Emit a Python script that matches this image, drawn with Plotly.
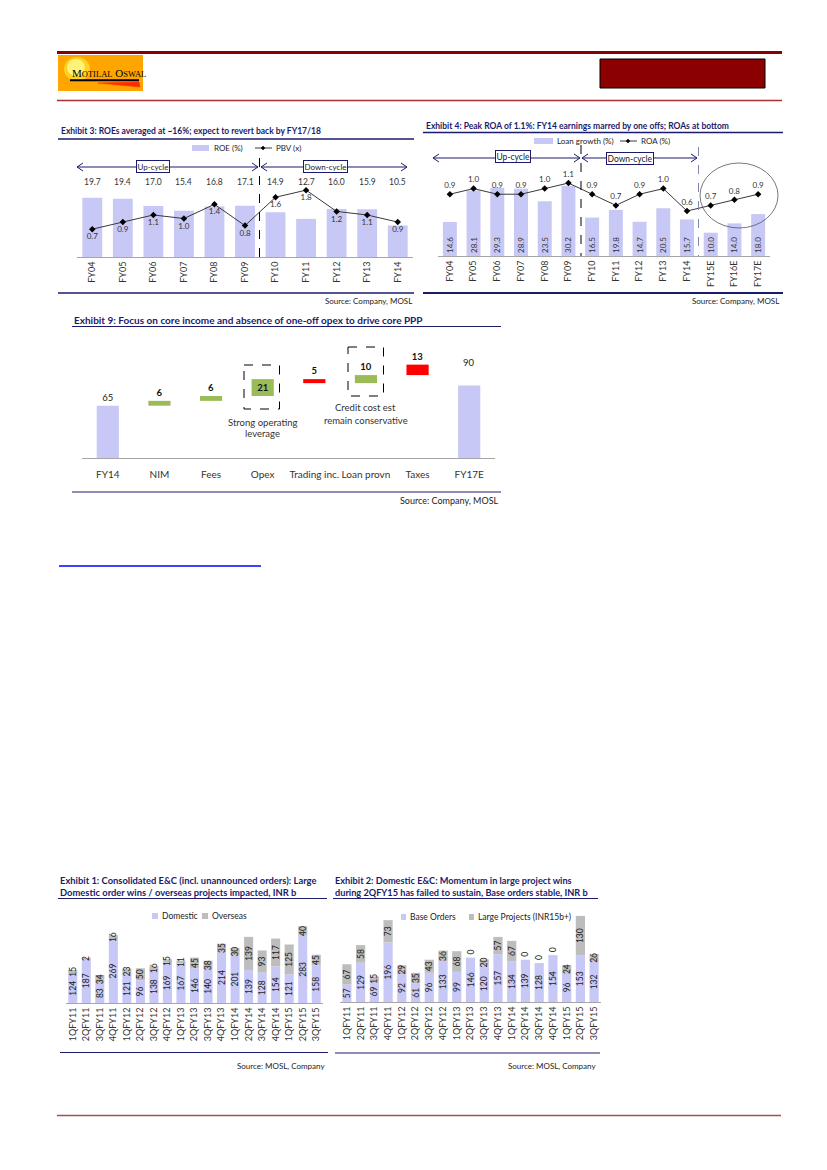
import plotly.graph_objects as go

W, H = 827, 1170
def X(p): return p / W
def Y(p): return 1 - p / H

FONT = "Lato"
NAVY = "#1b1b6b"
LAV = "#c8c8f6"
GRAY = "#bdbdbd"
GREEN = "#9bbb59"
RED = "#ff0000"
TXT = "#222222"

# ---------------- data ----------------
e3_years = ["FY04", "FY05", "FY06", "FY07", "FY08", "FY09", "FY10", "FY11", "FY12", "FY13", "FY14"]
e3_roe = [19.7, 19.4, 17.0, 15.4, 16.8, 17.1, 14.9, 12.7, 16.0, 15.9, 10.5]
e3_pbv = [0.7, 0.9, 1.1, 1.0, 1.4, 0.8, 1.6, 1.8, 1.2, 1.1, 0.9]

e4_years = ["FY04", "FY05", "FY06", "FY07", "FY08", "FY09", "FY10", "FY11", "FY12", "FY13", "FY14",
            "FY15E", "FY16E", "FY17E"]
e4_loan = [14.6, 28.1, 29.3, 28.9, 23.5, 30.2, 16.5, 19.8, 14.7, 20.5, 15.7, 10.0, 14.0, 18.0]
e4_roa = [0.9, 1.0, 0.9, 0.9, 1.0, 1.1, 0.9, 0.7, 0.9, 1.0, 0.6, 0.7, 0.8, 0.9]

wf_cats = ["FY14", "NIM", "Fees", "Opex", "Trading inc.", "Loan provn", "Taxes", "FY17E"]
wf_size = [65, 6, 6, 21, 5, 10, 13, 90]
wf_start = [0, 65, 71, 77, 93, 93, 103, 0]   # bar bottoms as drawn in the source
wf_kind = ["total", "up", "up", "up", "down", "up", "down", "total"]

q_cats = ["1QFY11", "2QFY11", "3QFY11", "4QFY11", "1QFY12", "2QFY12", "3QFY12", "4QFY12",
          "1QFY13", "2QFY13", "3QFY13", "4QFY13", "1QFY14", "2QFY14", "3QFY14", "4QFY14",
          "1QFY15", "2QFY15", "3QFY15"]
e1_domestic = [124, 187, 83, 269, 121, 96, 138, 169, 167, 146, 140, 214, 201, 139, 128, 154, 121, 283, 158]
e1_overseas = [15, 2, 34, 16, 23, 50, 16, 15, 11, 45, 38, 35, 30, 139, 93, 117, 125, 40, 45]
e2_base = [57, 129, 69, 196, 92, 61, 96, 133, 99, 146, 120, 157, 134, 139, 128, 154, 96, 153, 132]
e2_large = [67, 58, 15, 73, 29, 35, 43, 36, 68, 0, 20, 57, 67, 0, 0, 0, 24, 130, 26]

# ---------------- helpers ----------------
shapes, annotations = [], []

def ann(text, x, y, size=8, color=TXT, xanchor="center", **kw):
    d = dict(text=text, x=X(x), y=Y(y), xref="paper", yref="paper", xanchor=xanchor,
             yanchor="middle", showarrow=False, font=dict(family=FONT, size=size, color=color))
    d.update(kw)
    annotations.append(d)

def line(x0, y0, x1, y1, color, width=1, dash="solid"):
    shapes.append(dict(type="line", xref="paper", yref="paper", x0=X(x0), y0=Y(y0), x1=X(x1), y1=Y(y1),
                       line=dict(color=color, width=width, dash=dash)))

def rect(x0, y0, x1, y1, fill="rgba(0,0,0,0)", lc="rgba(0,0,0,0)", lw=0, dash="solid", kind="rect"):
    shapes.append(dict(type=kind, xref="paper", yref="paper", x0=X(x0), y0=Y(y0), x1=X(x1), y1=Y(y1),
                       fillcolor=fill, line=dict(color=lc, width=lw, dash=dash)))

def path(pts, fill=None, lc="black", lw=1, close=False):
    d = "M " + " L ".join(f"{X(a):.5f},{Y(b):.5f}" for a, b in pts) + (" Z" if close else "")
    s = dict(type="path", xref="paper", yref="paper", path=d, line=dict(color=lc, width=lw))
    if fill:
        s["fillcolor"] = fill
    shapes.append(s)

def chev_left(x, y, col):
    path([(x + 6, y - 4), (x, y), (x + 6, y + 4)], lc=col, lw=1)

def chev_right(x, y, col):
    path([(x - 6, y - 4), (x, y), (x - 6, y + 4)], lc=col, lw=1)

fig = go.Figure()

# ---------------- header ----------------
line(57, 52.5, 782, 52.5, "#8b0000", 3)
line(57, 100.5, 782, 100.5, "#a83232", 1.5)
rect(58, 55, 143, 91, fill="#ffa500")
rect(64, 57, 90, 81, fill="#ffd21f", kind="circle")
rect(67, 59, 85, 76, fill="#fff27a", kind="circle")
ann("M<span style='font-size:8.5px'>OTILAL</span> O<span style='font-size:8.5px'>SWAL</span>",
    70, 73, size=11, color="#000000", xanchor="left",
    font=dict(family="Liberation Serif", size=11, color="#000000"))
rect(70, 79.2, 139, 81.2, fill="#000000")
path([(98, 83), (139, 82), (140, 87)], fill="#ff2a00", lc="#ff2a00", lw=0.5, close=True)
rect(600, 59, 765, 88, fill="#8b0000", lc="#000000", lw=1)

# ---------------- Exhibit 3 ----------------
fig.add_trace(go.Bar(x=e3_years, y=e3_roe, marker=dict(color=LAV, line=dict(width=0)), width=0.65,
                     xaxis="x", yaxis="y", showlegend=False))
fig.add_trace(go.Scatter(x=e3_years, y=e3_pbv, mode="lines+markers+text", xaxis="x", yaxis="y2",
                         line=dict(color="#3a3a3a", width=1), marker=dict(symbol="diamond", size=5, color="#000"),
                         text=[f"{v:.1f}" for v in e3_pbv], textposition="bottom center",
                         textfont=dict(family=FONT, size=8, color="#333"), cliponaxis=False, showlegend=False))
for c, v in zip(e3_years, e3_roe):
    annotations.append(dict(text=f"{v:.1f}", x=c, y=Y(182), xref="x", yref="paper", showarrow=False,
                            font=dict(family=FONT, size=8.5, color="#333"), yanchor="middle"))
ann("<b>Exhibit 3: ROEs averaged at ~16%; expect to revert back by FY17/18</b>", 59, 131,
    size=8.5, color=NAVY, xanchor="left")
line(58, 139, 414, 139, NAVY, 1.5)
rect(192, 145, 209, 151, fill=LAV)
ann("ROE (%)", 212, 148, size=8, xanchor="left")
line(255, 148, 272, 148, "#3a3a3a", 1)
path([(263, 146), (265, 148), (263, 150), (261, 148)], fill="#000", lc="#000", lw=0.5, close=True)
ann("PBV (x)", 274, 148, size=8, xanchor="left")
line(77, 167, 258, 167, NAVY, 1.2)
chev_left(77, 167, NAVY)
chev_right(258, 167, NAVY)
line(261, 167, 407, 167, NAVY, 1.2)
chev_left(261, 167, NAVY)
chev_right(407, 167, NAVY)
ann("Up-cycle", 153, 167, size=8, bgcolor="#ffffff", bordercolor=NAVY, borderwidth=1, borderpad=0.5)
ann("Down-cycle", 325.5, 166.5, size=8, bgcolor="#ffffff", bordercolor=NAVY, borderwidth=1, borderpad=0.5)
line(259.5, 158, 259.5, 257, "#000000", 1, "dash")
line(58, 293, 414, 293, NAVY, 1.5)
ann("Source: Company, MOSL", 414, 301, size=8, xanchor="right")

# ---------------- Exhibit 4 ----------------
fig.add_trace(go.Bar(x=e4_years, y=e4_loan, marker=dict(color=LAV, line=dict(width=0)), width=0.59,
                     xaxis="x2", yaxis="y3", text=[f"{v:.1f}" for v in e4_loan], textposition="inside",
                     insidetextanchor="start", textangle=-90, constraintext="none",
                     textfont=dict(family=FONT, size=8, color="#333"), showlegend=False))
fig.add_trace(go.Scatter(x=e4_years, y=e4_roa, mode="lines+markers+text", xaxis="x2", yaxis="y4",
                         line=dict(color="#3a3a3a", width=1), marker=dict(symbol="diamond", size=5, color="#000"),
                         text=[f"{v:.1f}" for v in e4_roa], textposition="top center",
                         textfont=dict(family=FONT, size=8, color="#333"), cliponaxis=False, showlegend=False))
ann("<b>Exhibit 4: Peak ROA of 1.1%: FY14 earnings marred by one offs; ROAs at bottom</b>", 424, 126,
    size=8.5, color=NAVY, xanchor="left")
line(423, 132.5, 783, 132.5, NAVY, 1.5)
rect(534, 138, 553, 144, fill=LAV)
ann("Loan growth (%)", 555, 141, size=8, xanchor="left")
line(620, 141, 637, 141, "#3a3a3a", 1)
path([(628, 139), (630, 141), (628, 143), (626, 141)], fill="#000", lc="#000", lw=0.5, close=True)
ann("ROA (%)", 639, 141, size=8, xanchor="left")
line(433, 158, 580, 158, NAVY, 1.2)
chev_left(433, 158, NAVY)
chev_right(580, 158, NAVY)
line(582, 158, 697, 158, NAVY, 1.2)
chev_left(582, 158, NAVY)
chev_right(697, 158, NAVY)
ann("Up-cycle", 512.5, 156.5, size=8.5, bgcolor="#ffffff", bordercolor=NAVY, borderwidth=1, borderpad=0.5)
ann("Down-cycle", 630, 158.5, size=8.5, bgcolor="#ffffff", bordercolor=NAVY, borderwidth=1, borderpad=0.5)
line(581, 145, 581, 256, "#000000", 1, "dash")
line(698.5, 147, 698.5, 256, "#7f86b0", 1, "dash")
rect(700, 163, 778, 228, lc="#555555", lw=0.8, kind="circle")
line(423, 293, 783, 293, NAVY, 2)
ann("Source: Company, MOSL", 781, 301, size=8, xanchor="right")

# ---------------- Exhibit 9 (waterfall) ----------------
colmap = {"total": LAV, "up": GREEN, "down": RED}
for kind in ["total", "up", "down"]:
    idx = [i for i, k in enumerate(wf_kind) if k == kind]
    if kind == "total":
        txt = [str(wf_size[i]) if wf_cats[i] != "FY17E" else "" for i in idx]
        pos = ["outside" for i in idx]
        tf = dict(family=FONT, size=9.5, color="#222")
    else:
        txt = [f"<b>{wf_size[i]}</b>" for i in idx]
        pos = ["inside" if wf_cats[i] == "Opex" else "outside" for i in idx]
        tf = dict(family=FONT, size=9.5, color="#111")
    fig.add_trace(go.Bar(x=[wf_cats[i] for i in idx], y=[wf_size[i] for i in idx],
                         base=[wf_start[i] for i in idx], marker=dict(color=colmap[kind], line=dict(width=0)),
                         width=0.43, xaxis="x3", yaxis="y5", text=txt, textposition=pos,
                         insidetextanchor="end", constraintext="none", cliponaxis=False,
                         textfont=tf, showlegend=False))
i17 = wf_cats.index("FY17E")
annotations.append(dict(text=str(wf_size[i17]), x=wf_cats[i17], y=wf_size[i17], xref="x3", yref="y5",
                        showarrow=False, yshift=23, font=dict(family=FONT, size=9.5, color="#222")))
ann("<b>Exhibit 9: Focus on core income and absence of one-off opex to drive core PPP</b>", 72, 320,
    size=10, color=NAVY, xanchor="left")
line(72, 326.5, 501, 326.5, NAVY, 1.2)
rect(244, 365, 279.5, 409, lc="#000000", lw=1, dash="dash")
rect(348, 347, 383.5, 396, lc="#000000", lw=1, dash="dash")
annotations.append(dict(text="Strong operating", x="Opex", y=Y(422), xref="x3", yref="paper", showarrow=False,
                        font=dict(family=FONT, size=9.5, color="#333"), bgcolor="#ffffff"))
annotations.append(dict(text="leverage", x="Opex", y=Y(433.5), xref="x3", yref="paper", showarrow=False,
                        font=dict(family=FONT, size=9.5, color="#333")))
annotations.append(dict(text="Credit cost est", x="Loan provn", y=Y(407.5), xref="x3", yref="paper",
                        showarrow=False, font=dict(family=FONT, size=9.5, color="#333")))
annotations.append(dict(text="remain conservative", x="Loan provn", y=Y(420), xref="x3", yref="paper",
                        showarrow=False, font=dict(family=FONT, size=9.5, color="#333")))
line(72, 492, 501, 492, NAVY, 1.2)
ann("Source: Company, MOSL", 501, 500, size=9, xanchor="right")

# link underline
line(59, 566, 261, 566, "#0000ff", 1.5)

# ---------------- Exhibit 1 ----------------
BT = dict(family=FONT, size=8.5, color="#222")
fig.add_trace(go.Bar(x=q_cats, y=e1_domestic, marker=dict(color=LAV, line=dict(width=0)), width=0.67,
                     xaxis="x4", yaxis="y6", text=[str(v) for v in e1_domestic], textposition="inside",
                     insidetextanchor="middle", textangle=-90, constraintext="none",
                     textfont=BT, showlegend=False))
fig.add_trace(go.Bar(x=q_cats, y=e1_overseas, base=e1_domestic, marker=dict(color=GRAY, line=dict(width=0)),
                     width=0.67, xaxis="x4", yaxis="y6", text=[str(v) for v in e1_overseas],
                     textposition="inside", insidetextanchor="middle", textangle=-90, constraintext="none",
                     textfont=BT, showlegend=False))
ann("<b>Exhibit 1: Consolidated E&C (incl. unannounced orders): Large</b>", 57.5, 880, size=9.4,
    color=NAVY, xanchor="left")
ann("<b>Domestic order wins / overseas projects impacted, INR b</b>", 57.5, 892.5, size=9.4,
    color=NAVY, xanchor="left")
line(58, 898.5, 327, 898.5, NAVY, 1.2)
rect(152, 913, 158, 919, fill=LAV)
ann("Domestic", 160, 916, size=8.5, xanchor="left")
rect(202, 913, 208, 919, fill=GRAY)
ann("Overseas", 210, 916, size=8.5, xanchor="left")
line(60, 1052.5, 328, 1052.5, NAVY, 1.2)
ann("Source: MOSL, Company", 327, 1066, size=8, xanchor="right")

# ---------------- Exhibit 2 ----------------
fig.add_trace(go.Bar(x=q_cats, y=e2_base, marker=dict(color=LAV, line=dict(width=0)), width=0.67,
                     xaxis="x5", yaxis="y7", text=[str(v) for v in e2_base], textposition="inside",
                     insidetextanchor="middle", textangle=-90, constraintext="none",
                     textfont=BT, showlegend=False))
fig.add_trace(go.Bar(x=q_cats, y=e2_large, base=e2_base, marker=dict(color=GRAY, line=dict(width=0)),
                     width=0.67, xaxis="x5", yaxis="y7", text=[str(v) for v in e2_large],
                     textposition=["outside" if v == 0 else "inside" for v in e2_large],
                     insidetextanchor="middle", textangle=-90, constraintext="none", cliponaxis=False,
                     textfont=BT, showlegend=False))
ann("<b>Exhibit 2: Domestic E&C: Momentum in large project wins</b>", 332.5, 880, size=9.2,
    color=NAVY, xanchor="left")
ann("<b>during 2QFY15 has failed to sustain, Base orders stable, INR b</b>", 332.5, 892.5, size=9.2,
    color=NAVY, xanchor="left")
line(333, 898.5, 598, 898.5, NAVY, 1.2)
rect(401, 914, 406, 920, fill=LAV)
ann("Base Orders", 408, 917, size=8.5, xanchor="left")
rect(469, 914, 474, 920, fill=GRAY)
ann("Large Projects (INR15b+)", 476, 917, size=8.5, xanchor="left")
line(335, 1053, 600, 1053, NAVY, 1.2)
ann("Source: MOSL, Company", 598, 1066, size=8, xanchor="right")

# footer
line(57, 1115.5, 781, 1115.5, "#a0524f", 1.5)

# ---------------- axes ----------------
def xax(dom, cats, angle=-90, size=9, standoff=None):
    d = dict(domain=[X(dom[0]), X(dom[1])], type="category", categoryorder="array", categoryarray=cats,
             range=[-0.5, len(cats) - 0.5], showgrid=False,
             zeroline=False, showline=True, linecolor="#a6a6a6", linewidth=1, ticks="",
             tickangle=angle, tickfont=dict(family=FONT, size=size, color="#333"), fixedrange=True)
    if standoff is not None:
        d["ticklabelstandoff"] = standoff
    return d

def yax(dom, rng, anchor, overlay=None):
    d = dict(domain=[Y(dom[0]), Y(dom[1])], range=rng, visible=False, showgrid=False, zeroline=False,
             anchor=anchor, fixedrange=True)
    if overlay:
        d["overlaying"] = overlay
    return d

fig.update_layout(
    width=W, height=H, margin=dict(l=0, r=0, t=0, b=0), autosize=False,
    paper_bgcolor="#ffffff", plot_bgcolor="rgba(0,0,0,0)", barmode="overlay",
    font=dict(family=FONT, size=9, color=TXT), showlegend=False,
    xaxis=dict(xax((77, 413), e3_years), anchor="y"),
    yaxis=yax((257, 160), [0, 32.3], "x"),
    yaxis2=yax((257, 160), [-0.085, 2.65], "x", overlay="y"),
    xaxis2=dict(xax((438, 770), e4_years), anchor="y3"),
    yaxis3=yax((256, 150), [0, 45.5], "x2"),
    yaxis4=yax((256, 150), [-0.204, 1.69], "x2", overlay="y3"),
    xaxis3=dict(xax((82, 495), wf_cats, angle=0, size=10, standoff=7), anchor="y5"),
    yaxis5=yax((458, 340), [0, 146.6], "x3"),
    xaxis4=dict(xax((66, 323), q_cats), anchor="y6"),
    yaxis6=yax((1003, 920), [0, 349], "x4"),
    xaxis5=dict(xax((340, 601), q_cats), anchor="y7"),
    yaxis7=yax((1002, 915), [0, 286], "x5"),
    shapes=shapes, annotations=annotations,
)

fig.write_html("out.html", config={"displayModeBar": False},
               post_script="document.body.style.margin='0px';document.body.style.overflow='hidden';")
